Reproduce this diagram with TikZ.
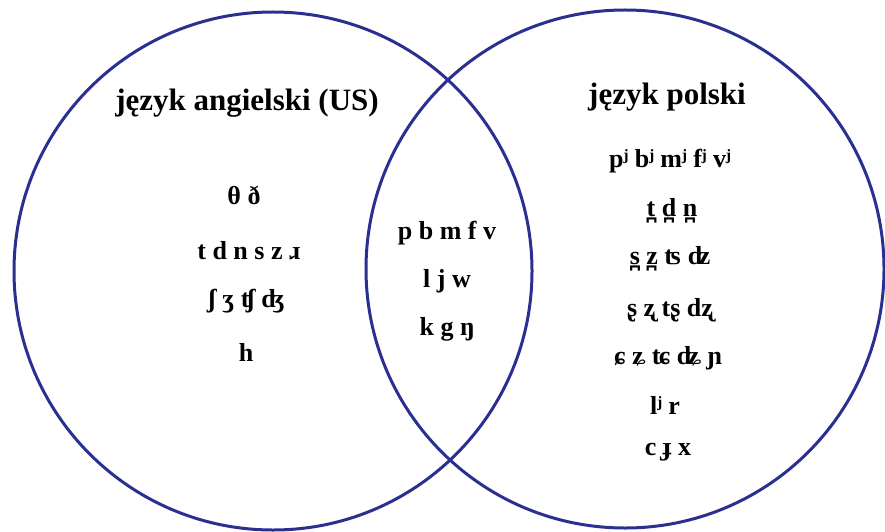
\documentclass[tikz,border=0pt]{standalone}
\usepackage{fontspec}
\setmainfont{Liberation Serif}
\definecolor{setblue}{RGB}{42,48,145}
\tikzset{
  vennset/.style={circle, draw=setblue, line width=3pt, inner sep=0pt, minimum size=518pt},
  heading/.style={font=\bfseries\fontsize{31}{36}\selectfont, inner sep=0pt},
  phon/.style={font=\bfseries\fontsize{26}{30}\selectfont, inner sep=0pt}
}
\begin{document}
\begin{tikzpicture}[x=1pt, y=-1pt]
  \useasboundingbox (0,0) rectangle (885,532);
  % the two sets
  \node[vennset] (en) at (273,271) {};
  \node[vennset] (pl) at (625,269) {};
  % set names
  \node[heading] (enname) at (247,103) {język angielski (US)};
  \node[heading] (plname) at (667,97) {język polski};
  % English only
  \node[phon] (en1) at (244,195) {θ ð};
  \node[phon] (en2) at (249,251) {t d n s z ɹ};
  \node[phon] (en3) at (246,301) {ʃ ʒ ʧ ʤ};
  \node[phon] (en4) at (246,352) {h};
  % shared
  \node[phon] (sh1) at (447,233) {p b m f v};
  \node[phon] (sh2) at (447,281) {l j w};
  \node[phon] (sh3) at (447,329) {k g ŋ};
  % Polish only
  \node[phon] (pl1) at (670,161) {pʲ bʲ mʲ fʲ vʲ};
  \node[phon] (pl2) at (672,211) {t̪ d̪ n̪};
  \node[phon] (pl3) at (670,259) {s̪ z̪ ʦ ʣ};
  \node[phon] (pl4) at (670,310) {ʂ ʐ tʂ dʐ};
  \node[phon] (pl5) at (668,358) {ɕ ʑ ʨ ʥ ɲ};
  \node[phon] (pl6) at (665,405) {lʲ r};
  \node[phon] (pl7) at (668,452) {c ɟ x};
\end{tikzpicture}
\end{document}
